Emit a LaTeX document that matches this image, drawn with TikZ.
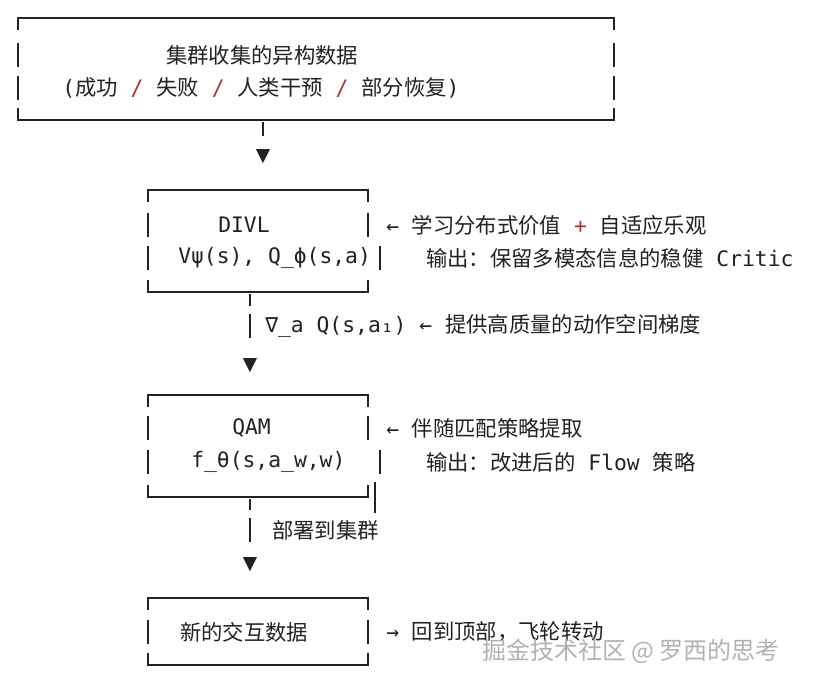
\documentclass[tikz,border=0pt]{standalone}
\usepackage{fontspec}
\setmainfont{DejaVu Sans Mono}
\newfontfamily\cjk{Noto Sans CJK SC}
\newfontfamily\sym{DejaVu Sans}
\newcommand{\zh}[1]{{\cjk #1}}
\newcommand{\rd}[1]{{\color{slash}#1}}
\definecolor{ink}{HTML}{222222}
\definecolor{slash}{HTML}{B03030}
\begin{document}
\begin{tikzpicture}[x=0.75pt,y=-0.75pt,
  box/.style={draw=ink,line width=1.1pt},
  bar/.style={draw=ink,line width=1pt},
  txt/.style={inner sep=0pt,anchor=west,text=ink,font=\fontsize{16}{19}\selectfont},
  tip/.style={inner sep=0pt,text=ink,font=\sym\fontsize{14}{16}\selectfont}]

\useasboundingbox[fill=white] (0,0) rectangle (813,685);

% Box 1: collected data
\draw[box] (18,30) -- (18,18) -- (614,18) -- (614,30);
\draw[box] (18,108) -- (18,120) -- (614,120) -- (614,108);
\foreach \y in {55,88} {
  \draw[bar] (18,\y-12) -- (18,\y+12);
  \draw[bar] (614,\y-12) -- (614,\y+12);
}
\node[txt] (data) at (166,55) {\zh{集群收集的异构数据}};
\node[txt] (kinds) at (62,88) {(\zh{成功} \rd{/} \zh{失败} \rd{/} \zh{人类干预} \rd{/} \zh{部分恢复})};

% down to DIVL
\coordinate (c1) at (263,122);
\coordinate (c1e) at (263,136);
\draw[bar] (c1) -- (c1e);
\node[tip] (t1) at (263,157) {▼};

% Box 2: DIVL
\draw[box] (148,202) -- (148,190) -- (368,190) -- (368,202);
\draw[box] (148,280) -- (148,292) -- (368,292) -- (368,280);
\draw[bar] (148,213) -- (148,237);
\draw[bar] (368,213) -- (368,237);
\draw[bar] (148,246) -- (148,270);
\draw[bar] (380,246) -- (380,270);
\node[txt] (divl) at (218,225) {DIVL};
\node[txt] (vq) at (178,258) {Vψ(s), Q\_ϕ(s,a)};
\node[txt] (learn) at (386,225) {← \zh{学习分布式价值} \rd{+} \zh{自适应乐观}};
\node[txt] (out1) at (426,258) {\zh{输出：保留多模态信息的稳健} Critic};

% gradient link
\coordinate (c2) at (250,294);
\coordinate (c2e) at (250,306);
\draw[bar] (c2) -- (c2e);
\draw[bar] (250,314) -- (250,338);
\node[txt] (grad) at (265,326) {∇\_a Q(s,a₁)  ← \zh{提供高质量的动作空间梯度}};
\node[tip] (t2) at (250,366) {▼};

% Box 3: QAM
\draw[box] (148,407) -- (148,395) -- (368,395) -- (368,407);
\draw[box] (148,485) -- (148,497) -- (368,497) -- (368,485);
\draw[bar] (148,416) -- (148,440);
\draw[bar] (368,416) -- (368,440);
\draw[bar] (148,450) -- (148,474);
\draw[bar] (380,450) -- (380,474);
\coordinate (c3) at (375,482);
\coordinate (c3e) at (375,513);
\draw[bar] (c3) -- (c3e);
\node[txt] (qam) at (232,428) {QAM};
\node[txt] (pol) at (191,462) {f\_θ(s,a\_w,w)};
\node[txt] (match) at (386,428) {← \zh{伴随匹配策略提取}};
\node[txt] (out2) at (426,462) {\zh{输出：改进后的} Flow \zh{策略}};

% deploy link
\coordinate (c4) at (250,499);
\coordinate (c4e) at (250,510);
\draw[bar] (c4) -- (c4e);
\draw[bar] (250,518) -- (250,542);
\node[txt] (deploy) at (272,530) {\zh{部署到集群}};
\node[tip] (t3) at (250,565) {▼};

% Box 4: new data
\draw[box] (148,610) -- (148,598) -- (368,598) -- (368,610);
\draw[box] (148,653) -- (148,665) -- (368,665) -- (368,653);
\draw[bar] (148,620) -- (148,644);
\draw[bar] (368,620) -- (368,644);
\node[txt] (new) at (180,632) {\zh{新的交互数据}};
\node[txt] (back) at (386,632) {→ \zh{回到顶部，飞轮转动}};

% watermark
\node[txt,text=black!30,font=\cjk\fontsize{18}{20}\selectfont] (wm) at (482,651) {掘金技术社区 @ 罗西的思考};

\end{tikzpicture}
\end{document}
